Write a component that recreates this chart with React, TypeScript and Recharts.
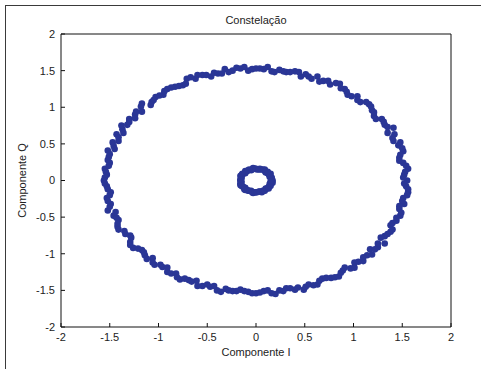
import { Scatter, ScatterChart, XAxis, YAxis } from 'recharts';

const outerQ1 = [
    [1.55, 0.0], [1.52, 0.08], [1.56, 0.16], [1.51, 0.24], [1.47, 0.31], [1.51, 0.4], [1.46, 0.48], [1.41, 0.54],
    [1.42, 0.63], [1.41, 0.72], [1.32, 0.76], [1.29, 0.84], [1.21, 0.88], [1.19, 0.96], [1.16, 1.04], [1.07, 1.07],
    [1.04, 1.15], [0.94, 1.17], [0.91, 1.25], [0.86, 1.32], [0.76, 1.31], [0.69, 1.36], [0.63, 1.42], [0.54, 1.42],
    [0.46, 1.42], [0.4, 1.49], [0.31, 1.48], [0.24, 1.51], [0.16, 1.49], [0.08, 1.52],
    [1.51, 0.04], [1.54, 0.2], [1.48, 0.35], [1.48, 0.52], [1.35, 0.65], [1.31, 0.8], [1.21, 0.93], [1.13, 1.07],
    [0.98, 1.15], [0.87, 1.26], [0.74, 1.36], [0.57, 1.39], [0.44, 1.48], [0.28, 1.49], [0.12, 1.55],
    [1.53, 0.12], [1.47, 0.27], [1.5, 0.44], [1.4, 0.58], [1.35, 0.73], [1.23, 0.84], [1.18, 1.01], [1.04, 1.1],
    [0.93, 1.21], [0.82, 1.33], [0.65, 1.35], [0.51, 1.45], [0.35, 1.48], [0.19, 1.48], [0.04, 1.53]
];
const outerQ2 = [
    [0.0, 1.53], [-0.08, 1.5], [-0.16, 1.53], [-0.24, 1.5], [-0.32, 1.52], [-0.39, 1.46], [-0.46, 1.42], [-0.55, 1.44],
    [-0.62, 1.39], [-0.71, 1.39], [-0.75, 1.3], [-0.83, 1.28], [-0.91, 1.25], [-0.95, 1.17], [-1.03, 1.14], [-1.07, 1.07],
    [-1.17, 1.05], [-1.17, 0.94], [-1.24, 0.9], [-1.3, 0.84], [-1.32, 0.76], [-1.37, 0.7], [-1.43, 0.63], [-1.41, 0.54],
    [-1.46, 0.47], [-1.52, 0.41], [-1.51, 0.32], [-1.5, 0.24], [-1.55, 0.16], [-1.53, 0.08],
    [-0.04, 1.52], [-0.2, 1.54], [-0.35, 1.46], [-0.51, 1.44], [-0.67, 1.41], [-0.79, 1.29], [-0.94, 1.22], [-1.05, 1.1],
    [-1.18, 1.01], [-1.24, 0.85], [-1.38, 0.75], [-1.41, 0.59], [-1.45, 0.43], [-1.52, 0.28], [-1.54, 0.12],
    [-0.12, 1.55], [-0.28, 1.48], [-0.43, 1.47], [-0.6, 1.44], [-0.72, 1.32], [-0.87, 1.27], [-0.99, 1.16], [-1.08, 1.03],
    [-1.23, 0.94], [-1.3, 0.8], [-1.36, 0.65], [-1.47, 0.52], [-1.5, 0.36], [-1.51, 0.2], [-1.55, 0.04]
];
const outerQ3 = [
    [-1.56, 0.0], [-1.53, -0.08], [-1.49, -0.16], [-1.53, -0.24], [-1.49, -0.32], [-1.52, -0.41], [-1.46, -0.48], [-1.41, -0.54],
    [-1.42, -0.63], [-1.35, -0.69], [-1.29, -0.75], [-1.29, -0.84], [-1.26, -0.92], [-1.17, -0.95], [-1.14, -1.02], [-1.06, -1.06],
    [-1.04, -1.15], [-0.96, -1.18], [-0.91, -1.25], [-0.82, -1.27], [-0.78, -1.35], [-0.69, -1.36], [-0.61, -1.37], [-0.55, -1.44],
    [-0.47, -1.45], [-0.4, -1.5], [-0.31, -1.48], [-0.24, -1.51], [-0.16, -1.49], [-0.08, -1.52],
    [-1.55, -0.04], [-1.5, -0.2], [-1.5, -0.36], [-1.43, -0.51], [-1.41, -0.67], [-1.28, -0.78], [-1.21, -0.93], [-1.12, -1.07],
    [-0.98, -1.15], [-0.87, -1.27], [-0.73, -1.34], [-0.6, -1.44], [-0.43, -1.44], [-0.28, -1.5], [-0.12, -1.51],
    [-1.52, -0.12], [-1.52, -0.28], [-1.44, -0.43], [-1.42, -0.59], [-1.34, -0.73], [-1.29, -0.88], [-1.15, -0.98], [-1.06, -1.12],
    [-0.91, -1.19], [-0.81, -1.32], [-0.66, -1.38], [-0.5, -1.42], [-0.36, -1.52], [-0.2, -1.51], [-0.04, -1.54]
];
const outerQ4 = [
    [0.0, -1.54], [0.08, -1.51], [0.16, -1.54], [0.24, -1.5], [0.31, -1.47], [0.4, -1.49], [0.49, -1.49], [0.54, -1.42],
    [0.63, -1.42], [0.68, -1.34], [0.77, -1.33], [0.85, -1.31], [0.89, -1.23], [0.97, -1.2], [1.01, -1.12], [1.1, -1.1],
    [1.14, -1.02], [1.17, -0.94], [1.25, -0.91], [1.32, -0.86], [1.32, -0.76], [1.38, -0.7], [1.38, -0.61], [1.44, -0.55],
    [1.48, -0.48], [1.47, -0.39], [1.52, -0.32], [1.51, -0.24], [1.56, -0.16], [1.54, -0.08],
    [0.04, -1.53], [0.2, -1.55], [0.35, -1.47], [0.51, -1.45], [0.65, -1.37], [0.81, -1.32], [0.91, -1.19], [1.05, -1.11],
    [1.19, -1.01], [1.25, -0.86], [1.35, -0.73], [1.4, -0.58], [1.49, -0.44], [1.5, -0.28], [1.56, -0.12],
    [0.12, -1.5], [0.28, -1.51], [0.43, -1.46], [0.59, -1.43], [0.72, -1.33], [0.87, -1.26], [1.01, -1.19], [1.1, -1.05],
    [1.22, -0.94], [1.28, -0.78], [1.4, -0.67], [1.44, -0.51], [1.47, -0.35], [1.55, -0.2], [1.52, -0.04]
];
// anel interno
const inner = [
    [0.17, 0.0], [0.16, 0.03], [0.14, 0.05], [0.15, 0.09], [0.12, 0.1], [0.1, 0.11], [0.09, 0.15], [0.05, 0.15], [0.03, 0.15],
    [0.0, 0.16], [-0.03, 0.17], [-0.05, 0.14], [-0.08, 0.14], [-0.11, 0.13], [-0.11, 0.1], [-0.14, 0.08], [-0.16, 0.06], [-0.15, 0.03],
    [-0.16, 0.0], [-0.15, -0.03], [-0.16, -0.06], [-0.14, -0.08], [-0.11, -0.1], [-0.11, -0.13], [-0.08, -0.14], [-0.05, -0.14], [-0.03, -0.17],
    [0.0, -0.16], [0.03, -0.15], [0.06, -0.16], [0.08, -0.14], [0.1, -0.11], [0.13, -0.11], [0.14, -0.08], [0.14, -0.05], [0.17, -0.03],
    [0.16, 0.01], [0.16, 0.04], [0.14, 0.07], [0.13, 0.09], [0.12, 0.12], [0.09, 0.13], [0.07, 0.15], [0.04, 0.16], [0.01, 0.15],
    [-0.01, 0.16], [-0.04, 0.15], [-0.07, 0.15], [-0.09, 0.13], [-0.11, 0.11], [-0.14, 0.09], [-0.15, 0.07], [-0.15, 0.04], [-0.16, 0.01],
    [-0.15, -0.01], [-0.16, -0.04], [-0.15, -0.07], [-0.13, -0.09], [-0.12, -0.12], [-0.09, -0.13], [-0.07, -0.14], [-0.04, -0.16], [-0.01, -0.16],
    [0.01, -0.16], [0.04, -0.15], [0.07, -0.14], [0.09, -0.14], [0.11, -0.11], [0.13, -0.09], [0.15, -0.07], [0.15, -0.04], [0.15, -0.01]
];
const ticks = [-2, -1.5, -1, -0.5, 0, 0.5, 1, 1.5, 2];

const points = [...outerQ1, ...outerQ2, ...outerQ3, ...outerQ4, ...inner].map(([x, y]) => ({ x, y }));

const font = { fontFamily: '"Liberation Sans", Arial, sans-serif', fontSize: 11, fill: '#222' };
const dot = (props: any) => <circle cx={props.cx} cy={props.cy} r={3.3} fill="#2a3696" />;
const none = () => <g />;

export default function App() {
    return (
        <div style={{ position: 'absolute', left: 0, top: 0, width: 481, height: 369, background: '#fff', overflow: 'hidden' }}>
            <div style={{ position: 'absolute', left: 5, top: 5, width: 500, height: 400,
                    borderLeft: '1px solid #3a3a3a', borderTop: '1px solid #3a3a3a' }} />
            <ScatterChart width={481} height={369} margin={{ top: 33, right: 29, bottom: 12, left: 21 }}>
                <XAxis dataKey="x" type="number" domain={[-2, 2]} ticks={ticks} allowDataOverflow
                        height={30} tickSize={-4} tickMargin={10} tick={font} interval={0}
                        axisLine={{ stroke: '#111' }} tickLine={{ stroke: '#111' }}
                        label={{ value: 'Componente I', position: 'insideBottom', offset: 1, style: font }} />
                <YAxis dataKey="y" type="number" domain={[-2, 2]} ticks={ticks} allowDataOverflow
                        width={40} tickSize={-4} tickMargin={10} tick={font} interval={0}
                        axisLine={{ stroke: '#111' }} tickLine={{ stroke: '#111' }}
                        label={{ value: 'Componente Q', angle: -90, position: 'insideLeft', offset: 1,
                                style: { ...font, textAnchor: 'middle' } }} />
                <XAxis xAxisId="top" dataKey="x" orientation="top" type="number" domain={[-2, 2]} ticks={ticks} allowDataOverflow
                        height={1} tickSize={-4} tick={false} interval={0}
                        axisLine={{ stroke: '#111' }} tickLine={{ stroke: '#111' }}
                        label={{ value: 'Constelação', position: 'top', offset: 9, style: font }} />
                <YAxis yAxisId="right" dataKey="y" orientation="right" type="number" domain={[-2, 2]} ticks={ticks} allowDataOverflow
                        width={1} tickSize={-4} tick={false} interval={0}
                        axisLine={{ stroke: '#111' }} tickLine={{ stroke: '#111' }} />
                <Scatter data={points} shape={dot} isAnimationActive={false} />
                <Scatter data={points} xAxisId="top" yAxisId="right" shape={none} isAnimationActive={false} />
            </ScatterChart>
        </div>
    );
}
